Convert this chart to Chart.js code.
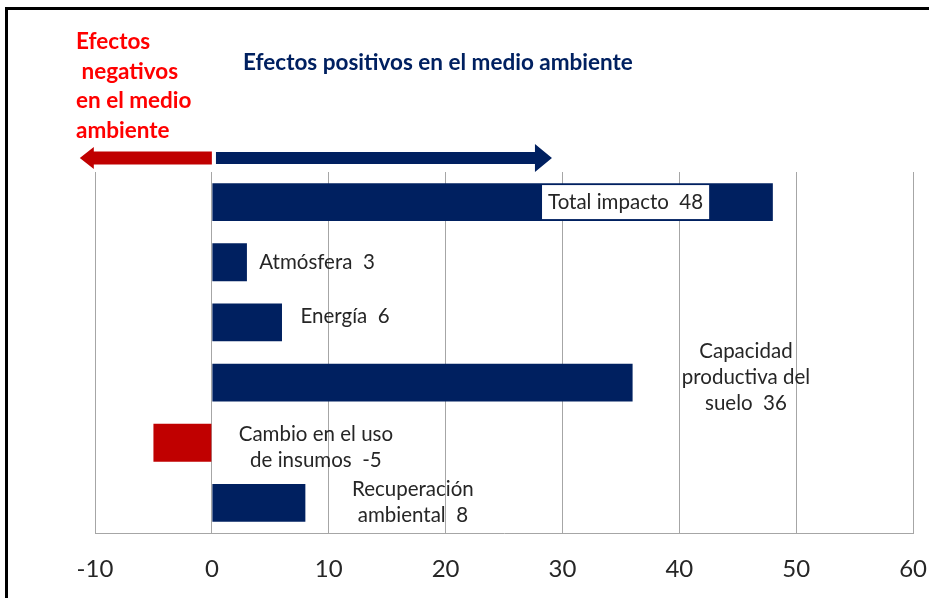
<!DOCTYPE html>
<html>
<head>
<meta charset="utf-8">
<script src="https://cdn.jsdelivr.net/npm/chart.js@4"></script>
<style>
html, body { margin: 0; padding: 0; background: #fff; }
#wrap { position: relative; width: 929px; height: 598px; overflow: hidden; }
#frame { position: absolute; left: 5px; top: 7px; width: 960px; height: 620px; border-left: 3px solid #000; border-top: 3px solid #000; }
canvas { position: absolute; left: 0; top: 0; }
.note { position: absolute; font-family: Lato, "Open Sans", sans-serif; font-weight: bold; font-size: 22.5px; line-height: 29.5px; white-space: pre; }
#neg { left: 76px; top: 26px; color: #ff0000; }
#pos { left: 243px; top: 47px; color: #002060; }
</style>
</head>
<body>
<div id="wrap">
  <canvas id="chart" width="929" height="598"></canvas>
  <div id="frame"></div>
  <div class="note" id="neg">Efectos
 negativos
en el medio
ambiente</div>
  <div class="note" id="pos">Efectos positivos en el medio ambiente</div>
</div>
<script>
// data
const categories = ['Total impacto', 'Atmósfera', 'Energía', 'Capacidad productiva del suelo', 'Cambio en el uso de insumos', 'Recuperación ambiental'];
const values = [48, 3, 6, 36, -5, 8];
const labelLines = [['Total impacto'], ['Atmósfera'], ['Energía'], ['Capacidad', 'productiva del', 'suelo'], ['Cambio en el uso', 'de insumos'], ['Recuperación', 'ambiental']];
const xTicks = [-10, 0, 10, 20, 30, 40, 50, 60];

// where each label sits: x in axis units, y shift in px from the bar centre
const labelPos = [[35.4, 0], [9.0, 0], [11.4, -6], [45.7, -5], [8.9, 5], [17.2, -1]];

const NAVY = '#002060';
const RED = '#c00000';

const barLabels = {
  id: 'barLabels',
  afterDatasetsDraw(chart) {
    const ctx = chart.ctx;
    const xs = chart.scales.x;
    const bars = chart.getDatasetMeta(0).data;
    ctx.save();
    ctx.font = '20.5px Lato, "Open Sans", sans-serif';
    ctx.textAlign = 'center';
    ctx.textBaseline = 'middle';
    bars.forEach((bar, i) => {
      const lines = labelLines[i].slice();
      lines[lines.length - 1] += '  ' + values[i];
      const cx = xs.getPixelForValue(labelPos[i][0]);
      const lh = 26;
      const cy = bar.y + labelPos[i][1];
      if (i === 0) {
        const w = ctx.measureText(lines[0]).width + 12;
        ctx.fillStyle = '#fff';
        ctx.fillRect(cx - w / 2, bar.y - 17, w, 34);
      }
      ctx.fillStyle = '#262626';
      lines.forEach((t, k) => {
        ctx.fillText(t, cx, cy + (k - (lines.length - 1) / 2) * lh);
      });
    });
    ctx.restore();
  }
};

function arrow(ctx, x0, x1, y, body, head, headLen, color, dir) {
  ctx.fillStyle = color;
  ctx.beginPath();
  if (dir > 0) {
    ctx.moveTo(x0, y - body / 2);
    ctx.lineTo(x1 - headLen, y - body / 2);
    ctx.lineTo(x1 - headLen, y - head / 2);
    ctx.lineTo(x1, y);
    ctx.lineTo(x1 - headLen, y + head / 2);
    ctx.lineTo(x1 - headLen, y + body / 2);
    ctx.lineTo(x0, y + body / 2);
  } else {
    ctx.moveTo(x1, y - body / 2);
    ctx.lineTo(x0 + headLen, y - body / 2);
    ctx.lineTo(x0 + headLen, y - head / 2);
    ctx.lineTo(x0, y);
    ctx.lineTo(x0 + headLen, y + head / 2);
    ctx.lineTo(x0 + headLen, y + body / 2);
    ctx.lineTo(x1, y + body / 2);
  }
  ctx.closePath();
  ctx.fill();
}

const arrows = {
  id: 'arrows',
  afterDraw(chart) {
    const ctx = chart.ctx;
    const xs = chart.scales.x;
    const y = chart.chartArea.top - 14;
    ctx.save();
    arrow(ctx, xs.getPixelForValue(-11.3), xs.getPixelForValue(0), y, 13, 22, 14, RED, -1);
    arrow(ctx, xs.getPixelForValue(0.35), xs.getPixelForValue(29.1), y, 12, 28, 17, NAVY, 1);
    ctx.restore();
  }
};

new Chart(document.getElementById('chart'), {
  type: 'bar',
  data: {
    labels: categories,
    datasets: [{
      data: values,
      backgroundColor: values.map(v => v < 0 ? RED : NAVY),
      borderWidth: 0,
      barPercentage: 0.7,
      categoryPercentage: 0.9
    }]
  },
  options: {
    indexAxis: 'y',
    responsive: false,
    animation: false,
    layout: { padding: { left: 95, right: 0, top: 172, bottom: 17 } },
    plugins: { legend: { display: false }, tooltip: { enabled: false } },
    scales: {
      x: {
        min: -10,
        max: 60,
        afterBuildTicks: s => { s.ticks = xTicks.map(v => ({ value: v })); },
        afterFit: s => { s.height = 48; },
        grid: { color: '#a6a6a6', lineWidth: 1, drawTicks: true, tickLength: 20, tickColor: 'rgba(0,0,0,0)' },
        border: { color: '#a6a6a6', width: 1 },
        ticks: { padding: 2, color: '#262626', font: { size: 24, family: 'Lato, "Open Sans", sans-serif' } }
      },
      y: { display: false }
    }
  },
  plugins: [barLabels, arrows]
});
</script>
</body>
</html>
